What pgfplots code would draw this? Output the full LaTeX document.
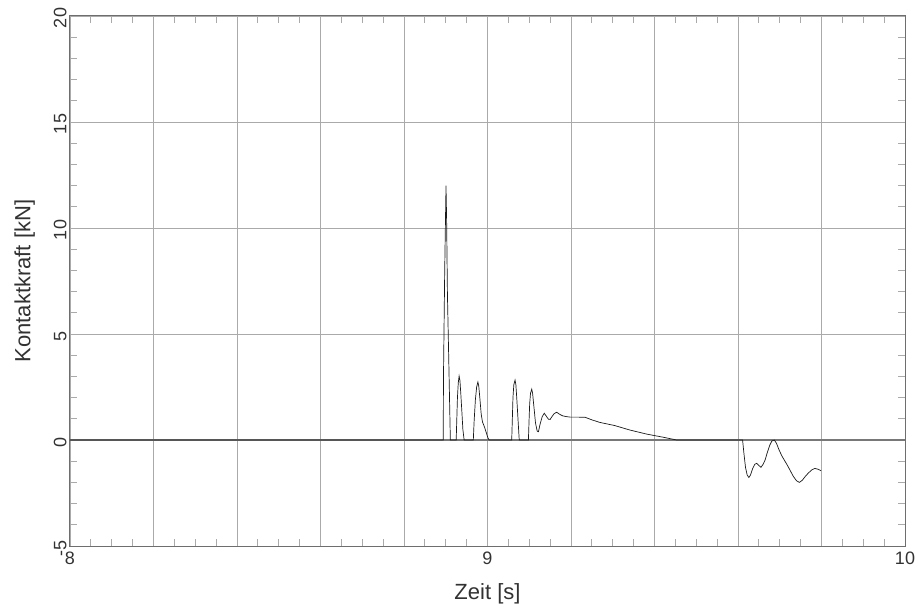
\documentclass[border=0pt]{standalone}
\usepackage{fontspec}
\setmainfont{Liberation Sans}
\usepackage{pgfplots}
\pgfplotsset{compat=1.18}
\definecolor{axgray}{RGB}{110,110,110}
\definecolor{gridgray}{RGB}{170,170,170}
\definecolor{txtgray}{RGB}{50,50,50}
\definecolor{zerogray}{RGB}{120,120,120}
\begin{document}
\begin{tikzpicture}
\begin{axis}[
  at={(0,0)}, anchor=south west,
  scale only axis,
  width=835pt, height=530pt,
  xmin=8, xmax=10, ymin=-5, ymax=20,
  xtick={8,8.2,...,10.01},
  xticklabels={8,,,,,9,,,,,10},
  ytick={-5,0,5,10,15,20},
  minor x tick num=3,
  minor y tick num=4,
  grid=major,
  major grid style={gridgray, line width=0.8pt},
  axis line style={axgray, line width=1pt},
  tick style={gridgray, line width=0.8pt},
  major tick length=0pt,
  minor tick length=7pt,
  tick align=inside,
  /pgf/number format/assume math mode=true,
  ticklabel style={font=\fontsize{18}{20}\selectfont, text=txtgray},
  yticklabel style={rotate=90, anchor=south, xshift=-2pt},
  xticklabel style={anchor=north, yshift=-2pt},
  label style={font=\fontsize{22}{26}\selectfont, text=txtgray},
  xlabel={Zeit [s]},
  ylabel={Kontaktkraft [kN]},
  xlabel style={yshift=-12pt},
  ylabel style={yshift=12pt},
]
\addplot[zerogray, line width=1.4pt] coordinates {(8,0) (10,0)};
\addplot[black!90, line width=0.7pt] coordinates {
(8,0) (8.894,0) (8.8945,2.9) (8.8975,8) (8.9006,12) (8.902,10.5) (8.904,6.9) (8.9075,3.5) (8.911,0)
(8.925,0) (8.9265,1.0) (8.928,2.0) (8.930,2.7) (8.932,3.02) (8.934,2.8) (8.936,2.2) (8.939,1.2) (8.941,0.5) (8.944,0)
(8.966,0) (8.968,0.9) (8.971,1.9) (8.974,2.5) (8.977,2.74) (8.979,2.55) (8.982,1.9) (8.985,1.2) (8.988,0.85) (8.990,0.75) (8.993,0.6) (8.997,0.35) (9.001,0.1) (9.004,0)
(9.058,0) (9.0595,1.0) (9.061,2.0) (9.063,2.6) (9.066,2.83) (9.068,2.6) (9.070,2.0) (9.073,1.0) (9.076,0)
(9.098,0) (9.0995,0.9) (9.101,1.7) (9.103,2.2) (9.106,2.4) (9.108,2.2) (9.111,1.6) (9.115,0.8) (9.119,0.42) (9.122,0.39) (9.126,0.75) (9.131,1.1) (9.136,1.26) (9.141,1.12) (9.146,0.98) (9.150,0.97) (9.155,1.12) (9.160,1.25) (9.166,1.31) (9.172,1.22) (9.180,1.14) (9.190,1.10) (9.198,1.08) (9.215,1.08) (9.234,1.07) (9.250,0.95) (9.269,0.83) (9.305,0.68) (9.341,0.47) (9.381,0.28) (9.421,0.13) (9.453,0)
(9.611,0) (9.614,-0.6) (9.618,-1.3) (9.622,-1.65) (9.626,-1.77) (9.630,-1.65) (9.635,-1.35) (9.640,-1.15) (9.645,-1.10) (9.650,-1.2) (9.655,-1.29) (9.660,-1.15) (9.665,-0.94) (9.670,-0.6) (9.676,-0.25) (9.681,-0.05) (9.687,0) (9.692,-0.15) (9.698,-0.45) (9.705,-0.75) (9.711,-0.95) (9.717,-1.15) (9.724,-1.4) (9.732,-1.7) (9.740,-1.92) (9.747,-2.0) (9.754,-1.9) (9.761,-1.72) (9.768,-1.57) (9.776,-1.42) (9.784,-1.34) (9.792,-1.38) (9.799,-1.45)
};
\end{axis}
\pgfresetboundingbox
\path (-70pt,-64pt) rectangle (848pt,546pt);
\end{tikzpicture}
\end{document}
